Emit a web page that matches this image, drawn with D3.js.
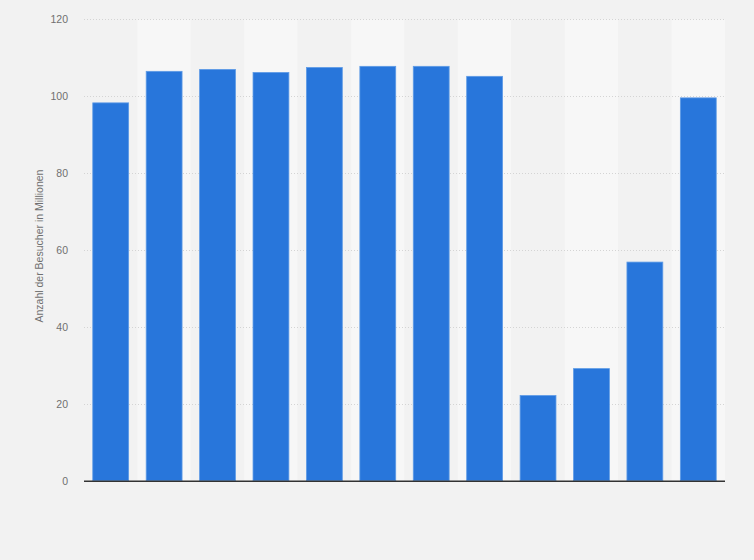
<!DOCTYPE html>
<html><head><meta charset="utf-8">
<script src="https://cdn.jsdelivr.net/npm/d3@7"></script>
<style>
html,body{margin:0;padding:0;background:#f2f2f2;}
svg{display:block;}
</style></head>
<body>
<svg id="chart" width="754" height="560"></svg>
<script>
const categories = ["1","2","3","4","5","6","7","8","9","10","11","12"];
const values = [98.4, 106.6, 107.1, 106.3, 107.6, 107.9, 107.9, 105.3, 22.3, 29.3, 57.0, 99.7];
const yTicks = [0, 20, 40, 60, 80, 100, 120];
const yLabel = "Anzahl der Besucher in Millionen";

const W = 754, H = 560;
const m = {left: 84, right: 29, top: 19.3, bottom: 79.2};
const svg = d3.select("#chart");
svg.append("rect").attr("width", W).attr("height", H).attr("fill", "#f2f2f2");

const x = d3.scaleBand().domain(categories).range([m.left, W - m.right]).paddingInner(0.31).paddingOuter(0.155);
const xCol = d3.scaleBand().domain(categories).range([m.left, W - m.right]).padding(0);
const y = d3.scaleLinear().domain([0, 120]).range([H - m.bottom, m.top]);

// alternating column backgrounds
svg.append("g").selectAll("rect").data(categories).join("rect")
  .attr("x", d => xCol(d)).attr("width", xCol.bandwidth())
  .attr("y", m.top).attr("height", y(0) - m.top)
  .attr("fill", (d, i) => i % 2 === 1 ? "#f7f7f7" : "#f2f2f2");

// gridlines
svg.append("g").selectAll("line").data(yTicks.filter(t => t > 0)).join("line")
  .attr("x1", m.left).attr("x2", W - m.right)
  .attr("y1", d => Math.round(y(d)) + 0.5).attr("y2", d => Math.round(y(d)) + 0.5)
  .attr("stroke", "#d4d4d4").attr("stroke-width", 1).attr("stroke-dasharray", "1,2");

// y axis
const yAxis = d3.axisLeft(y).tickValues(yTicks).tickSize(0).tickPadding(16);
const gy = svg.append("g").attr("transform", `translate(${m.left},0)`).call(yAxis);
gy.select(".domain").remove();
gy.selectAll("text").attr("fill", "#707070").attr("font-family", "Liberation Sans, Arial, sans-serif").attr("font-size", 10.5);

// bars
svg.append("g").selectAll("rect").data(values).join("rect")
  .attr("x", (d, i) => x(categories[i]) + 0.5)
  .attr("width", x.bandwidth() - 1)
  .attr("y", d => y(d) + 0.5)
  .attr("height", d => y(0) - y(d) - 0.5)
  .attr("fill", "#2876db")
  .attr("stroke", "#5e9be6").attr("stroke-width", 0.8);

// x baseline
svg.append("line").attr("x1", m.left).attr("x2", W - m.right)
  .attr("y1", y(0) + 0.5).attr("y2", y(0) + 0.5)
  .attr("stroke", "#333").attr("stroke-width", 1.5);

// y label
svg.append("text")
  .attr("transform", `translate(43,${(m.top + y(0)) / 2 - 4}) rotate(-90)`)
  .attr("text-anchor", "middle")
  .attr("fill", "#707070").attr("font-family", "Liberation Sans, Arial, sans-serif").attr("font-size", 10.5)
  .text(yLabel);
</script>
</body></html>
